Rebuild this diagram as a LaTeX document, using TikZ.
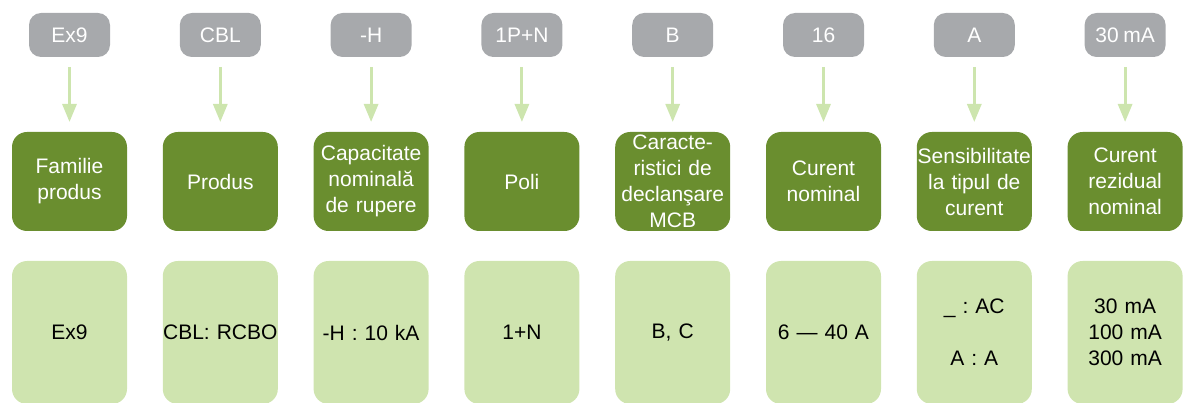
\documentclass[tikz,border=0pt]{standalone}
\usepackage{fontspec}
\setmainfont{Liberation Sans}[WordSpace=0.8]
\usepackage{xcolor}
\usepackage{tikz}
\usetikzlibrary{
  arrows.meta,
  positioning}
\frenchspacing
\definecolor{codegray}{HTML}{A7A9AC}
\definecolor{darkgreen}{HTML}{6A8E2F}
\definecolor{lightgreen}{HTML}{CFE4AF}
\definecolor{arrowgreen}{HTML}{CDE5AE}
\tikzset{every picture/.style={font issue=\fontsize{21}{26}},
         font issue/.style={execute at begin picture={#1\selectfont}},
         codebox/.style={fill=codegray,text=white,rounded corners=12pt,minimum width=81pt,minimum height=44pt,inner sep=0pt,outer sep=0pt},
         headbox/.style={fill=darkgreen,text=white,rounded corners=15pt,text width=115pt,minimum height=99pt,inner xsep=0pt,inner ysep=0pt,outer sep=0pt,align=center},
         valbox/.style={fill=lightgreen,text=black,rounded corners=15pt,text width=115pt,minimum height=143pt,inner xsep=0pt,inner ysep=0pt,outer sep=0pt,align=center},
         codearrow/.style={draw=arrowgreen,line width=3pt,-{Triangle[width=14pt,length=18pt]},shorten <=10pt,shorten >=10pt}
        }

\begin{document}
\begin{tikzpicture}
    \useasboundingbox (0,0) rectangle (1183pt,-403pt);

    \node[headbox] at (69.5pt,-181.5pt) (fam){Familie\\produs};
    \node[headbox,right = 35.8pt of fam](prod){Produs};
        \node[headbox,right = 35.8pt of prod](cap){Capacitate\\nominală\\de rupere};
            \node[headbox,right = 35.8pt of cap](poli){Poli};
                \node[headbox,right = 35.8pt of poli](carac){Caracte-\\ristici de\\declanşare\\MCB};
                    \node[headbox,right = 35.8pt of carac](curn){Curent\\nominal};
                        \node[headbox,right = 35.8pt of curn](sens){Sensibilitate\\la tipul de\\curent};
                            \node[headbox,right = 35.8pt of sens](rez){Curent\\rezidual\\nominal};

    % codes on top
    \node[codebox,above = 75pt of fam](c_fam){Ex9};
    \node[codebox,above = 75pt of prod](c_prod){CBL};
    \node[codebox,above = 75pt of cap](c_cap){-H};
    \node[codebox,above = 75pt of poli](c_poli){1P+N};
    \node[codebox,above = 75pt of carac](c_carac){B};
    \node[codebox,above = 75pt of curn](c_curn){16};
    \node[codebox,above = 75pt of sens](c_sens){A};
    \node[codebox,above = 75pt of rez](c_rez){30 mA};

    % values below
    \node[valbox,below = 30pt of fam](v_fam){Ex9};
    \node[valbox,below = 30pt of prod](v_prod){CBL: RCBO};
    \node[valbox,below = 30pt of cap](v_cap){-H : 10 kA};
    \node[valbox,below = 30pt of poli](v_poli){1+N};
    \node[valbox,below = 30pt of carac](v_carac){B, C};
    \node[valbox,below = 30pt of curn](v_curn){6 — 40 A};
    \node[valbox,below = 30pt of sens](v_sens){\_ : AC\\ \mbox{}\\A : A};
    \node[valbox,below = 30pt of rez](v_rez){30 mA\\100 mA\\300 mA};

    \draw[codearrow] (c_fam) -- (fam);
    \draw[codearrow] (c_prod) -- (prod);
    \draw[codearrow] (c_cap) -- (cap);
    \draw[codearrow] (c_poli) -- (poli);
    \draw[codearrow] (c_carac) -- (carac);
    \draw[codearrow] (c_curn) -- (curn);
    \draw[codearrow] (c_sens) -- (sens);
    \draw[codearrow] (c_rez) -- (rez);
\end{tikzpicture}
\end{document}
